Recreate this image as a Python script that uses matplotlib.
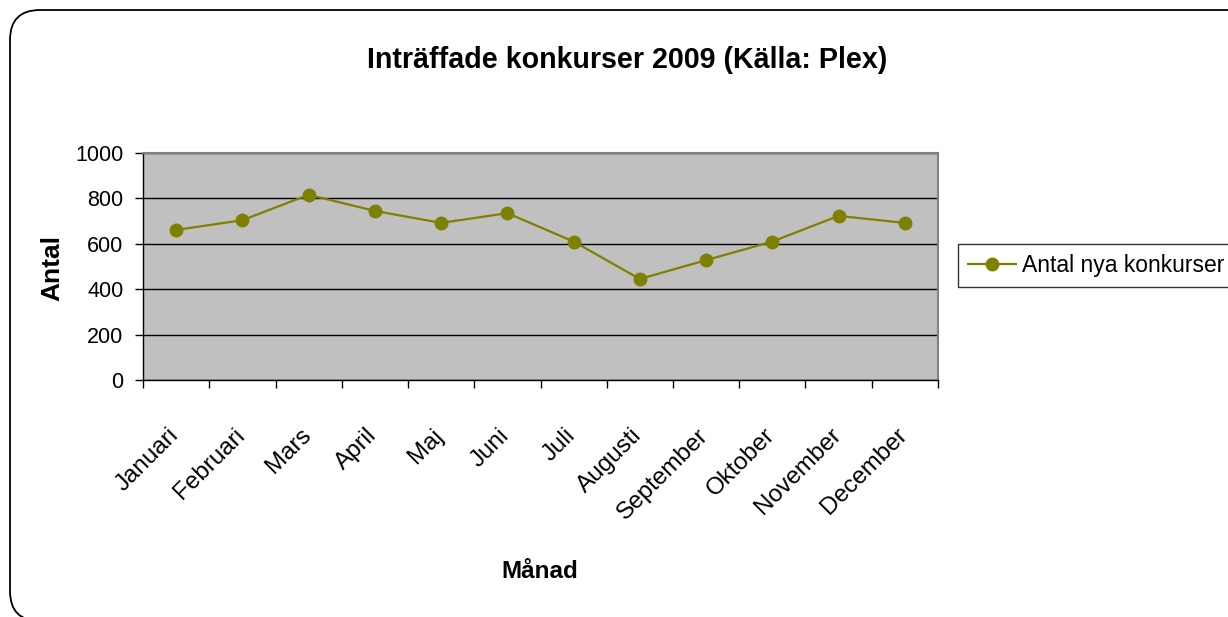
import matplotlib
matplotlib.use("Agg")
import matplotlib.pyplot as plt
import matplotlib.transforms as mtransforms
from matplotlib.patches import FancyBboxPatch
import numpy as np

plt.rcParams['font.family'] = ['Liberation Sans', 'DejaVu Sans']

# data
months = ["Januari", "Februari", "Mars", "April", "Maj", "Juni", "Juli",
          "Augusti", "September", "Oktober", "November", "December"]
konkurser = [661, 704, 816, 745, 692, 735, 610, 445, 528, 610, 723, 692]
yticks = [0, 200, 400, 600, 800, 1000]

OLIVE = "#808000"

fig = plt.figure(figsize=(12.28, 6.17), dpi=100)

# rounded chart border, running off the right and bottom edges
border = FancyBboxPatch((0.10, -0.04), 13.0, 6.17 - 0.10 + 0.04,
                        boxstyle="round,pad=0,rounding_size=0.30",
                        transform=fig.dpi_scale_trans, fill=False,
                        edgecolor="black", linewidth=1.3)
fig.patches.append(border)

ax = fig.add_axes([143 / 1228, 1 - 380 / 617, (938 - 143) / 1228, (380 - 153) / 617])
ax.set_facecolor("#c0c0c0")

x = np.arange(len(months))
ax.plot(x, konkurser, color=OLIVE, linewidth=1.6, marker="o",
        markersize=9, markerfacecolor=OLIVE, markeredgecolor=OLIVE,
        label="Antal nya konkurser", zorder=3)

ax.set_xlim(-0.5, len(months) - 0.5)
ax.set_ylim(0, 1000)
ax.set_yticks(yticks)
ax.yaxis.grid(True, color="black", linewidth=1.0)
ax.set_axisbelow(True)

# category labels at centers, tick marks at boundaries
ax.set_xticks(x)
ax.set_xticks(np.arange(-0.5, len(months)), minor=True)
ax.tick_params(axis="x", which="major", length=0, pad=32)
ax.tick_params(axis="x", which="minor", length=6, width=1, direction="out")
ax.set_xticklabels(months, rotation=45, ha="right", rotation_mode="anchor",
                   fontsize=17.5)
shift = mtransforms.ScaledTranslation(-9 / 100, 0, fig.dpi_scale_trans)
for lbl in ax.get_xticklabels():
    lbl.set_transform(lbl.get_transform() + shift)
ax.tick_params(axis="y", length=6, width=1, direction="out", labelsize=15.5, pad=8)

for s in ["top", "right"]:
    ax.spines[s].set_color("#808080")
    ax.spines[s].set_linewidth(1.5)
for s in ["left", "bottom"]:
    ax.spines[s].set_color("black")
    ax.spines[s].set_linewidth(1.0)

fig.text(627 / 1228, 1 - 60 / 617, "Inträffade konkurser 2009 (Källa: Plex)",
         ha="center", va="center", fontsize=20.6, fontweight="bold")
fig.text(540 / 1228, 1 - 572 / 617, "Månad", ha="center", va="center",
         fontsize=17.5, fontweight="bold")
fig.text(52 / 1228, 1 - 268 / 617, "Antal", ha="center", va="center",
         rotation=90, fontsize=19, fontweight="bold")

leg = ax.legend(loc="center left", bbox_to_anchor=(958 / 1228, 1 - 265.5 / 617),
                bbox_transform=fig.transFigure, fontsize=16.5, frameon=True,
                fancybox=False, edgecolor="black", handlelength=2.1,
                handletextpad=0.26, borderpad=0.45, borderaxespad=0)
leg.get_frame().set_linewidth(1.0)

fig.savefig("out.png", dpi=100)
